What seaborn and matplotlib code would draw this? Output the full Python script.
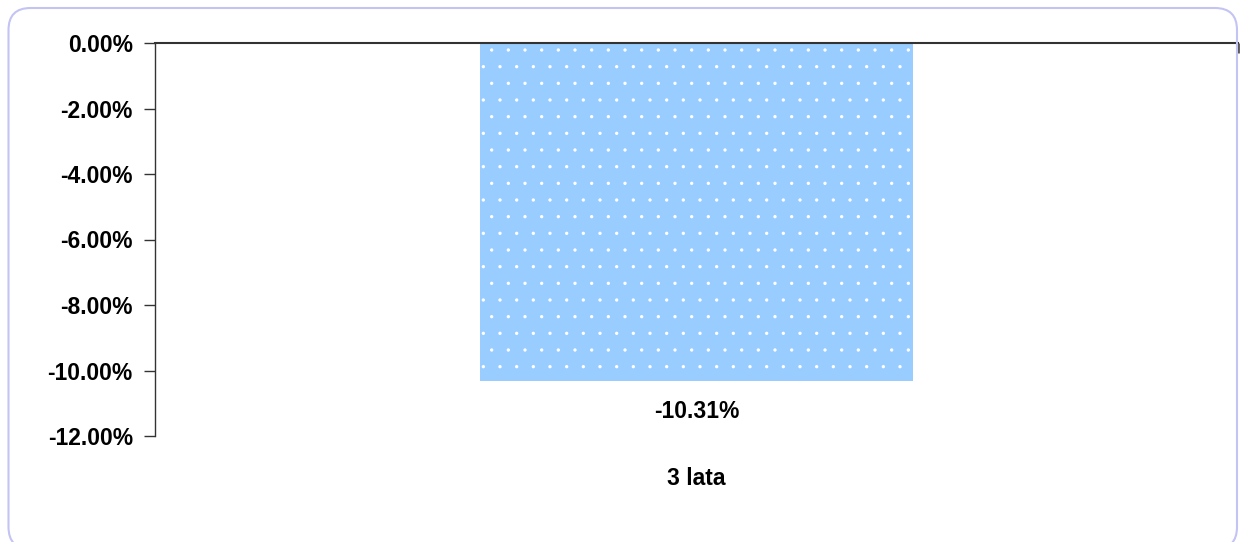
import matplotlib
matplotlib.use("Agg")
import matplotlib.pyplot as plt
import seaborn as sns
from matplotlib.patches import FancyBboxPatch
from matplotlib.transforms import IdentityTransform
from matplotlib.ticker import FuncFormatter

categories = ["3 lata"]
values = [-10.31]
value_labels = ["-10.31%"]
yticks = [0, -2, -4, -6, -8, -10, -12]

sns.set_style("white")
plt.rcParams['font.family'] = ['Liberation Sans', 'DejaVu Sans']
plt.rcParams['hatch.linewidth'] = 0.0
plt.rcParams['text.color'] = 'black'
plt.rcParams['xtick.color'] = 'black'
plt.rcParams['ytick.color'] = 'black'

fig = plt.figure(figsize=(12.45, 5.42), dpi=100)
ax = fig.add_axes([155/1245, 1 - 436/542, (1238-155)/1245, (436-43)/542])

sns.barplot(x=categories, y=values, color="#99CCFF", saturation=1, width=0.4, ax=ax)
for p in ax.patches:
    p.set_hatch('.')
    p.set_edgecolor('white')
    p.set_linewidth(0)

ax.set_ylim(-12, 0)
ax.set_xlim(-0.5, 0.5)
ax.set_yticks(yticks)
ax.yaxis.set_major_formatter(FuncFormatter(lambda v, _: f"{v:.2f}%"))
for lbl in ax.get_yticklabels():
    lbl.set_fontweight('bold')
    lbl.set_color('black')
ax.tick_params(axis='y', direction='out', length=8, width=1, color='#333333',
               labelsize=16.5, pad=8, left=True, labelcolor='black')

ax.set_xticks([0])
ax.set_xticklabels(categories, fontsize=16.5, fontweight='bold', color='black')
ax.tick_params(axis='x', which='major', length=0, pad=22, bottom=True)
ax.set_xticks([0.5], minor=True)
ax.tick_params(axis='x', which='minor', top=True, bottom=False, direction='in',
               length=7, width=2, color='#555555')
ax.set_xlabel("")
ax.set_ylabel("")

for side in ['right', 'bottom']:
    ax.spines[side].set_visible(False)
ax.spines['left'].set_color('#333333')
ax.spines['left'].set_linewidth(1)
ax.spines['top'].set_color('#333333')
ax.spines['top'].set_linewidth(1.5)

ax.bar_label(ax.containers[0], labels=value_labels, padding=14, fontsize=16.5,
             fontweight='bold', color='black')

border = FancyBboxPatch((8.5, -7), 1228.5, 541, boxstyle="round,pad=0,rounding_size=22",
                        transform=IdentityTransform(), facecolor='none',
                        edgecolor='#c4c4f4', linewidth=1.5)
fig.patches.append(border)

fig.savefig("out.png", dpi=100)
